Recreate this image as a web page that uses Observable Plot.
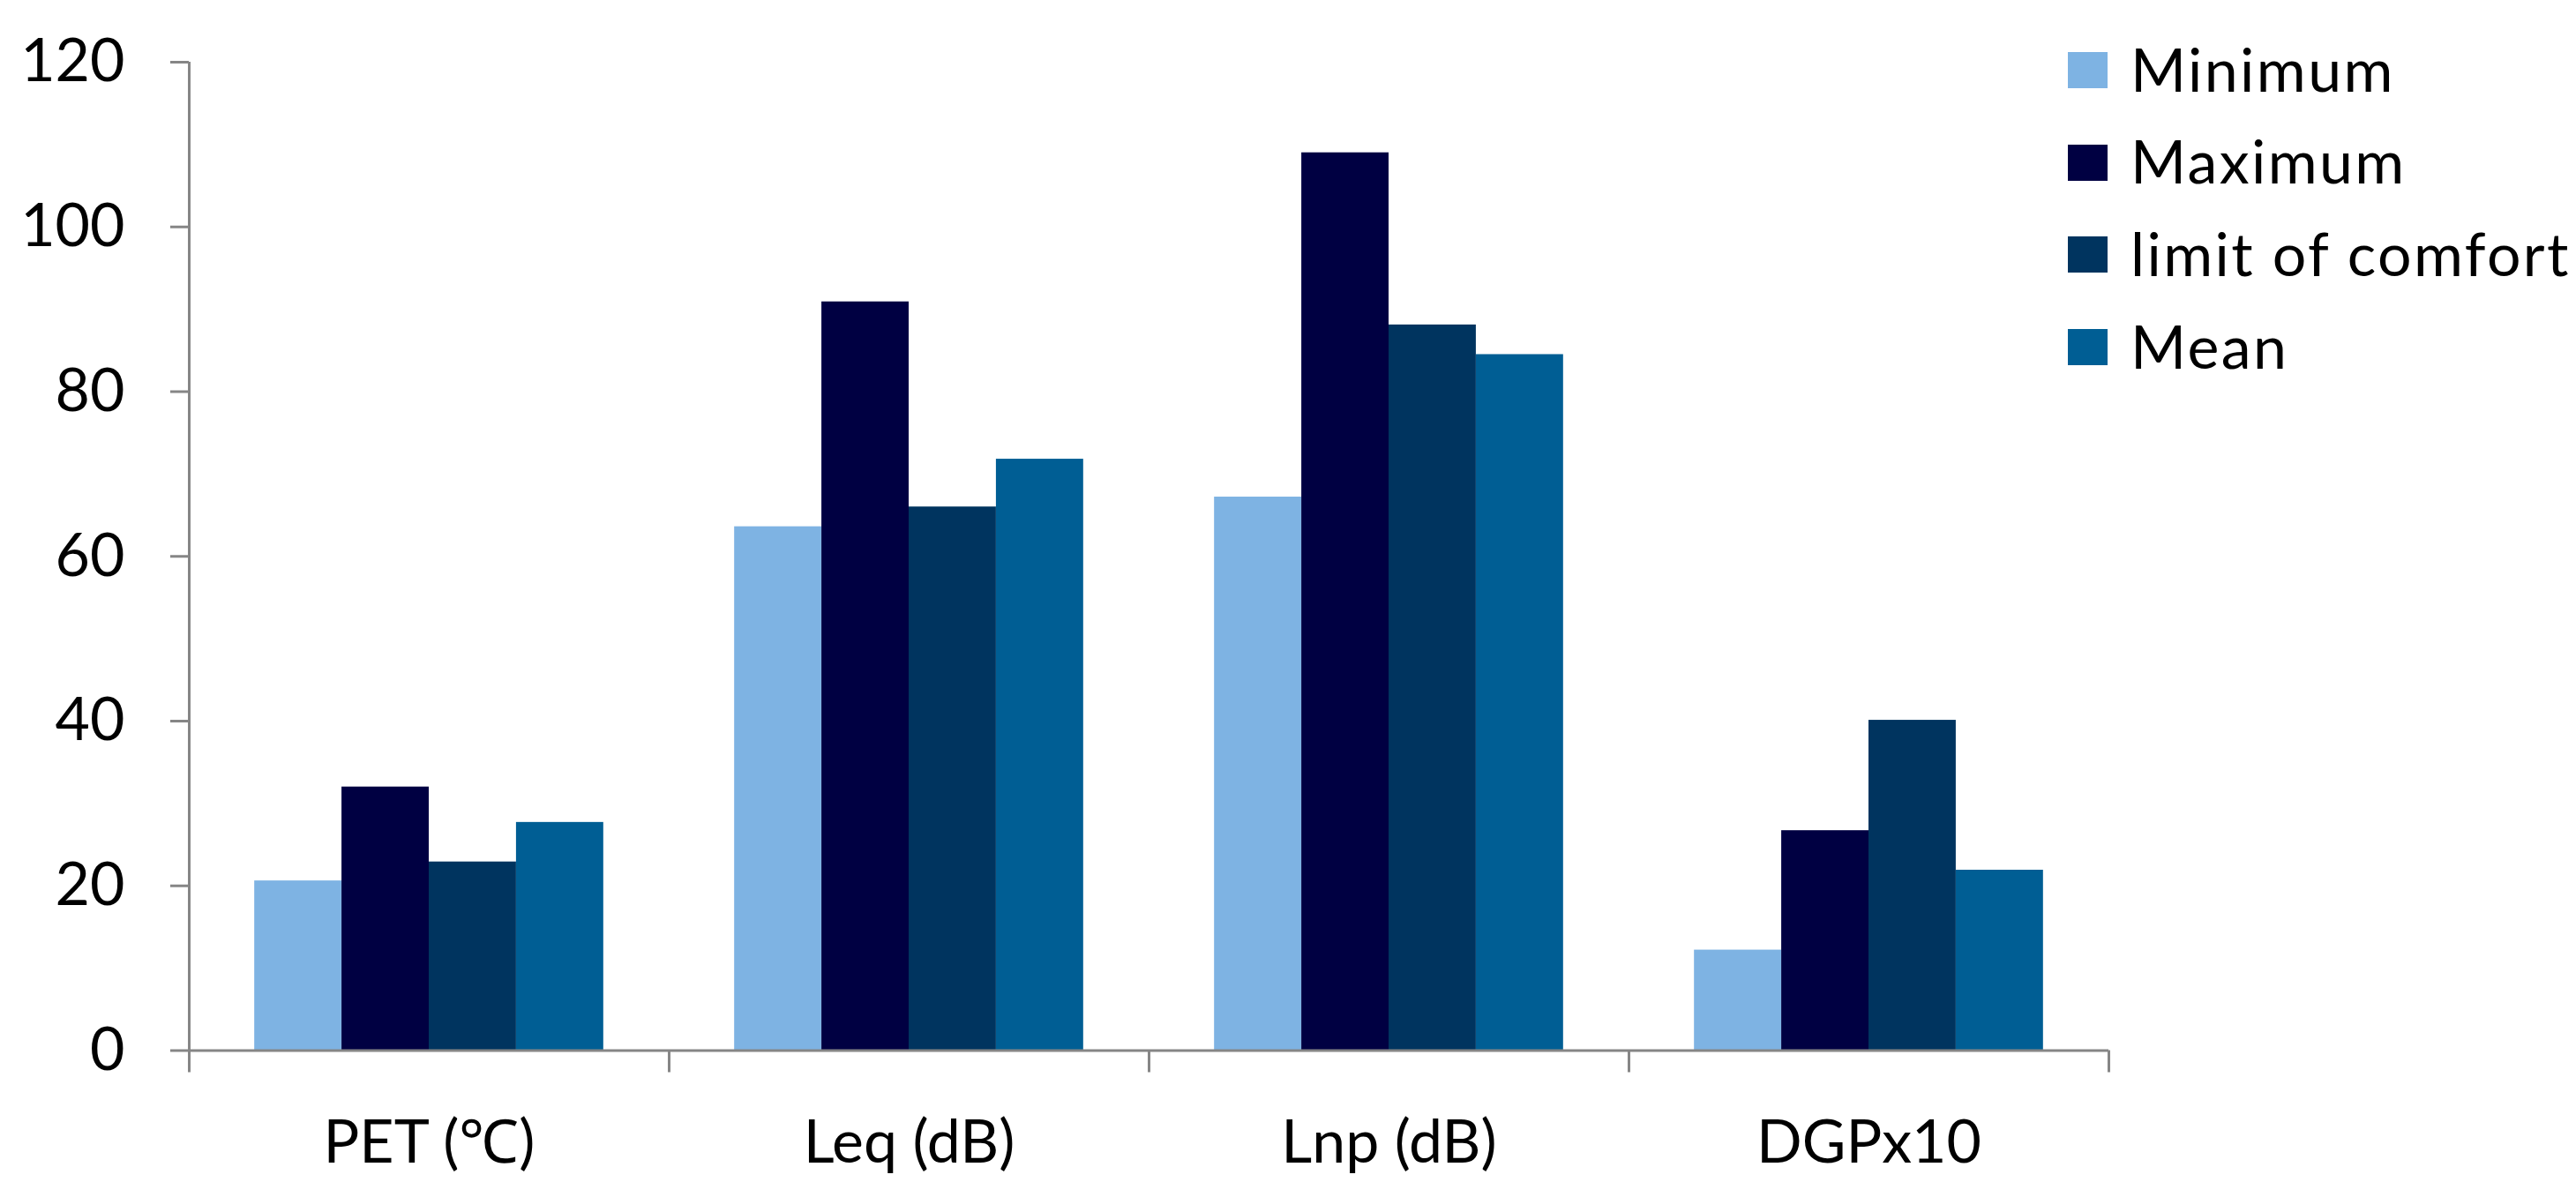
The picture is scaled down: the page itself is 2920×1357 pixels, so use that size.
<!DOCTYPE html>
<html>
<head>
<meta charset="utf-8">
<script src="https://cdn.jsdelivr.net/npm/d3@7"></script>
<script src="https://cdn.jsdelivr.net/npm/@observablehq/plot@0.6"></script>
<style>
  html, body { margin: 0; padding: 0; background: #fff; }
  #wrap { position: relative; width: 2920px; height: 1357px; font-family: Lato, "Open Sans", sans-serif; }
  #legend { position: absolute; left: 2344px; top: 0; }
  .item { position: absolute; left: 0; display: flex; align-items: center; height: 41px; }
  .sw { width: 45px; height: 41px; margin-right: 26px; flex: none; }
  .lab { font-size: 68px; letter-spacing: 2.4px; color: #000; white-space: nowrap; line-height: 1; position: relative; top: -2px; }
</style>
</head>
<body>
<div id="wrap"></div>
<script>
const categories = ["PET (\u2103)", "Leq (dB)", "Lnp (dB)", "DGPx10"];
const seriesNames = ["Minimum", "Maximum", "limit of comfort", "Mean"];
const minimum = [20.6, 63.6, 67.2, 12.2];
const maximum = [32.0, 90.9, 109.0, 26.7];
const limitOfComfort = [22.9, 66.0, 88.1, 40.1];
const mean = [27.7, 71.8, 84.5, 21.9];
const colors = ["#7EB3E3", "#000042", "#00345F", "#005E94"];
const yTicks = [0, 20, 40, 60, 80, 100, 120];

const seriesValues = [minimum, maximum, limitOfComfort, mean];
const rows = [];
seriesValues.forEach((vals, si) => {
  vals.forEach((v, ci) => rows.push({cat: ci, ser: si, series: seriesNames[si], value: v}));
});

// Excel-style clustered columns: gap width 150% -> band = 4 bars + 1.5 bar gap
const unit = 1 / 5.5;
const axisColor = "#868686";

const chart = Plot.plot({
  width: 2920,
  height: 1357,
  marginLeft: 214,
  marginRight: 530,
  marginTop: 70,
  marginBottom: 166.5,
  style: {fontFamily: "Lato, 'Open Sans', sans-serif", fontSize: "68px", color: "#000", background: "#fff"},
  x: {domain: [0, categories.length], axis: null},
  y: {domain: [0, 120], axis: null},
  color: {domain: seriesNames, range: colors},
  marks: [
    Plot.rectY(rows, {
      x1: d => d.cat + (0.75 + d.ser) * unit,
      x2: d => d.cat + (1.75 + d.ser) * unit,
      y1: 0,
      y2: "value",
      fill: "series"
    }),
    // y axis
    Plot.axisY({ticks: yTicks, tickSize: 21, tickPadding: 52, stroke: axisColor, strokeWidth: 3, fill: "#000", fontSize: 68, label: null}),
    Plot.ruleX([0], {stroke: axisColor, strokeWidth: 3}),
    // x axis line and boundary ticks
    Plot.ruleY([0], {stroke: axisColor, strokeWidth: 3}),
    Plot.axisX({ticks: d3.range(categories.length + 1), tickSize: 25, tickFormat: () => "", stroke: axisColor, strokeWidth: 3, label: null}),
    Plot.axisX({ticks: d3.range(categories.length).map(i => i + 0.5), tickSize: 0, tickPadding: 79, tickFormat: t => categories[Math.floor(t)], fill: "#000", fontSize: 68, label: null, style: {letterSpacing: "1px"}})
  ]
});

const wrap = document.getElementById("wrap");
wrap.appendChild(chart);

const legend = document.createElement("div");
legend.id = "legend";
seriesNames.forEach((name, i) => {
  const item = document.createElement("div");
  item.className = "item";
  item.style.top = (59 + i * 104.7) + "px";
  const sw = document.createElement("div");
  sw.className = "sw";
  sw.style.background = colors[i];
  const lab = document.createElement("div");
  lab.className = "lab";
  lab.textContent = name;
  item.appendChild(sw);
  item.appendChild(lab);
  legend.appendChild(item);
});
wrap.appendChild(legend);
</script>
</body>
</html>
